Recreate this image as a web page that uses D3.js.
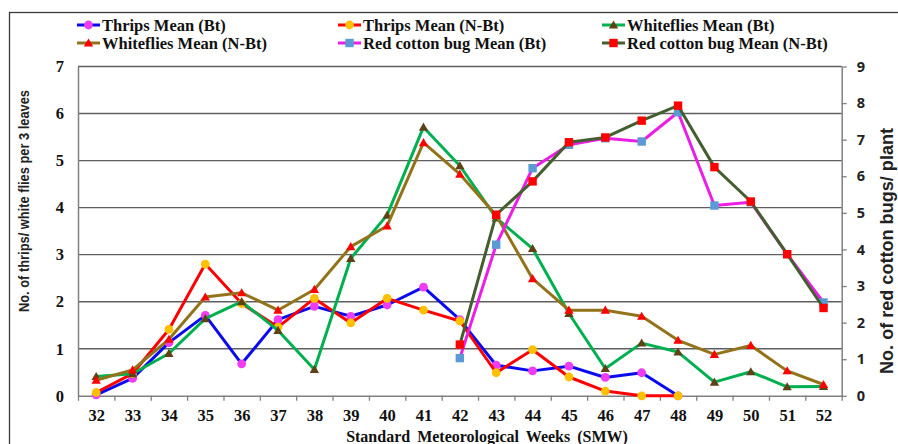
<!DOCTYPE html>
<html><head><meta charset="utf-8">
<script src="https://cdn.jsdelivr.net/npm/d3@7"></script>
<style>body{margin:0;background:#fff}svg{display:block}</style>
</head><body><svg id="c" width="898" height="444"></svg>
<script>
const weeks = [32,33,34,35,36,37,38,39,40,41,42,43,44,45,46,47,48,49,50,51,52];
const leftTicks = [0,1,2,3,4,5,6,7];
const rightTicks = [0,1,2,3,4,5,6,7,8,9];
const thripsBt   = [0.02,0.37,1.13,1.71,0.68,1.62,1.90,1.69,1.93,2.31,1.62,0.65,0.53,0.63,0.39,0.49,0.00,null,null,null,null];
const thripsNBt  = [0.07,0.47,1.41,2.80,1.96,1.46,2.07,1.55,2.07,1.82,1.59,0.49,0.98,0.40,0.10,0.00,0.00,null,null,null,null];
const whiteBt    = [0.41,0.47,0.90,1.64,2.00,1.39,0.56,2.92,3.84,5.71,4.89,3.78,3.13,1.75,0.58,1.12,0.93,0.29,0.51,0.19,0.20];
const whiteNBt   = [0.33,0.55,1.20,2.10,2.19,1.82,2.26,3.17,3.61,5.38,4.71,3.84,2.49,1.82,1.82,1.69,1.18,0.88,1.07,0.53,0.24];
const rcbBt      = [null,null,null,null,null,null,null,null,null,null,1.03,4.13,6.22,6.86,7.04,6.95,7.75,5.20,5.29,3.87,2.55];
const rcbNBt     = [null,null,null,null,null,null,null,null,null,null,1.40,4.95,5.86,6.93,7.06,7.52,7.93,6.25,5.31,3.87,2.40];
const seriesNames = ["Thrips Mean (Bt)","Thrips Mean (N-Bt)","Whiteflies Mean (Bt)","Whiteflies Mean (N-Bt)","Red cotton bug Mean (Bt)","Red cotton bug Mean (N-Bt)"];

const series = [
  {name:seriesNames[0], vals:thripsBt,  axis:"L", line:"#0a0af0", mark:"circle",   fill:"#f03cf0"},
  {name:seriesNames[1], vals:thripsNBt, axis:"L", line:"#ff0000", mark:"circle",   fill:"#ffc000"},
  {name:seriesNames[2], vals:whiteBt,   axis:"L", line:"#00b050", mark:"triangle", fill:"#5e4216"},
  {name:seriesNames[3], vals:whiteNBt,  axis:"L", line:"#93731a", mark:"triangle", fill:"#ff0000"},
  {name:seriesNames[4], vals:rcbBt,     axis:"R", line:"#ec1ee6", mark:"square",   fill:"#5b9bd5"},
  {name:seriesNames[5], vals:rcbNBt,    axis:"R", line:"#435e2f", mark:"square",   fill:"#ff0000"}
];

const svg = d3.select("#c");
const X0 = 78, X1 = 841.7, YT = 66.5, YB = 395.8;
const serif = "'Liberation Serif','Times New Roman',serif";
const sans = "'Liberation Sans',Arial,sans-serif";

const x = d3.scaleLinear().domain([weeks[0]-0.5, weeks[weeks.length-1]+0.5]).range([X0, X1]);
const yL = d3.scaleLinear().domain([0,7]).range([YB, YT]);
const yR = d3.scaleLinear().domain([0,9]).range([YB, YT]);

// outer border
svg.append("rect").attr("x",9.5).attr("y",12.5).attr("width",1000).attr("height",1000)
  .attr("fill","none").attr("stroke","#3a3a3a").attr("stroke-width",1.3);

// gridlines
svg.append("g").selectAll("line").data(leftTicks.slice(1)).join("line")
  .attr("x1",X0).attr("x2",X1).attr("y1",d=>yL(d)).attr("y2",d=>yL(d))
  .attr("stroke","#5f5f5f").attr("stroke-width",1.4);

// left axis
const gL = svg.append("g").attr("transform",`translate(${X0},0)`)
  .call(d3.axisLeft(yL).tickValues(leftTicks).tickFormat(d3.format("d")).tickSize(0).tickPadding(14));
gL.select(".domain").attr("stroke","#808080").attr("stroke-width",1.5);
gL.selectAll("text").attr("font-family",serif).attr("font-weight","bold").attr("font-size","16.5px").attr("fill","#111");

// right axis
const gR = svg.append("g").attr("transform",`translate(${X1},0)`)
  .call(d3.axisRight(yR).tickValues(rightTicks).tickFormat(d3.format("d")).tickSizeInner(5).tickSizeOuter(0).tickPadding(10));
gR.select(".domain").attr("stroke","#808080").attr("stroke-width",1.5);
gR.selectAll(".tick line").attr("stroke","#808080").attr("stroke-width",1.3);
gR.selectAll("text").attr("font-family","'Open Sans',sans-serif").attr("font-weight","bold").attr("font-size","14.5px").attr("fill","#222");

// bottom axis: boundary ticks
const gB = svg.append("g").attr("transform",`translate(0,${YB})`)
  .call(d3.axisBottom(x).tickValues(d3.range(weeks[0]-0.5, weeks[weeks.length-1]+1, 1)).tickFormat("").tickSizeInner(5).tickSizeOuter(0));
gB.select(".domain").attr("stroke","#808080").attr("stroke-width",1.5);
gB.selectAll(".tick line").attr("stroke","#808080").attr("stroke-width",1.3);
const gB2 = svg.append("g").attr("transform",`translate(0,${YB})`)
  .call(d3.axisBottom(x).tickValues(weeks).tickFormat(d3.format("d")).tickSize(0).tickPadding(13));
gB2.select(".domain").remove();
gB2.selectAll("text").attr("font-family",serif).attr("font-weight","bold").attr("font-size","16.5px").attr("fill","#111");

// titles
function fit(sel, target){
  const n = sel.node(); let fs = parseFloat(sel.attr("font-size"));
  for(let i=0;i<3;i++){ const L = n.getComputedTextLength(); fs = fs*target/L; sel.attr("font-size",fs); }
}
svg.append("text").attr("transform","translate(28.5,201) rotate(-90)")
  .attr("text-anchor","middle").attr("font-family",sans).attr("font-weight","bold").attr("font-size",14.5).attr("fill","#222")
  .attr("textLength",222).attr("lengthAdjust","spacingAndGlyphs")
  .text("No. of thrips/ white flies per 3 leaves");
const tR = svg.append("text").attr("transform","translate(893,251) rotate(-90)")
  .attr("text-anchor","middle").attr("font-family",sans).attr("font-weight","bold").attr("font-size",16).attr("fill","#222")
  .text("No. of red cotton bugs/ plant");
fit(tR, 246);
svg.append("text").attr("x",487).attr("y",442).attr("text-anchor","middle")
  .attr("font-family",serif).attr("font-weight","bold").attr("font-size","16px").attr("word-spacing","3px").attr("fill","#111")
  .text("Standard Meteorological Weeks (SMW)");

// markers
function drawMarker(g, type, cx, cy, fill){
  if(type==="circle") g.append("circle").attr("cx",cx).attr("cy",cy).attr("r",4.4).attr("fill",fill);
  else if(type==="square") g.append("rect").attr("x",cx-4.2).attr("y",cy-4.2).attr("width",8.4).attr("height",8.4).attr("fill",fill);
  else g.append("path").attr("d",d3.symbol(d3.symbolTriangle,38)()).attr("transform",`translate(${cx},${cy+0.8})`).attr("fill",fill);
}

// series
series.forEach(s=>{
  const ys = s.axis==="L"? yL : yR;
  const pts = weeks.map((w,i)=>({w, v:s.vals[i]})).filter(d=>d.v!==null);
  const g = svg.append("g");
  g.append("path").datum(pts)
    .attr("d", d3.line().x(d=>x(d.w)).y(d=>ys(d.v)))
    .attr("fill","none").attr("stroke",s.line).attr("stroke-width",3).attr("stroke-linejoin","round");
  pts.forEach(d=>drawMarker(g, s.mark, x(d.w), ys(d.v), s.fill));
});

// legend
const legX = [77, 338, 602], legY = [25, 43];
series.forEach((s,i)=>{
  const lx = legX[i%3], ly = legY[Math.floor(i/3)];
  const g = svg.append("g");
  g.append("line").attr("x1",lx).attr("x2",lx+23).attr("y1",ly).attr("y2",ly).attr("stroke",s.line).attr("stroke-width",3);
  drawMarker(g, s.mark, lx+11.5, ly, s.fill);
  g.append("text").attr("x",lx+25).attr("y",ly+5.5).attr("font-family",serif).attr("font-weight","bold")
    .attr("font-size","16.5px").attr("fill","#111").text(s.name);
});
</script></body></html>
